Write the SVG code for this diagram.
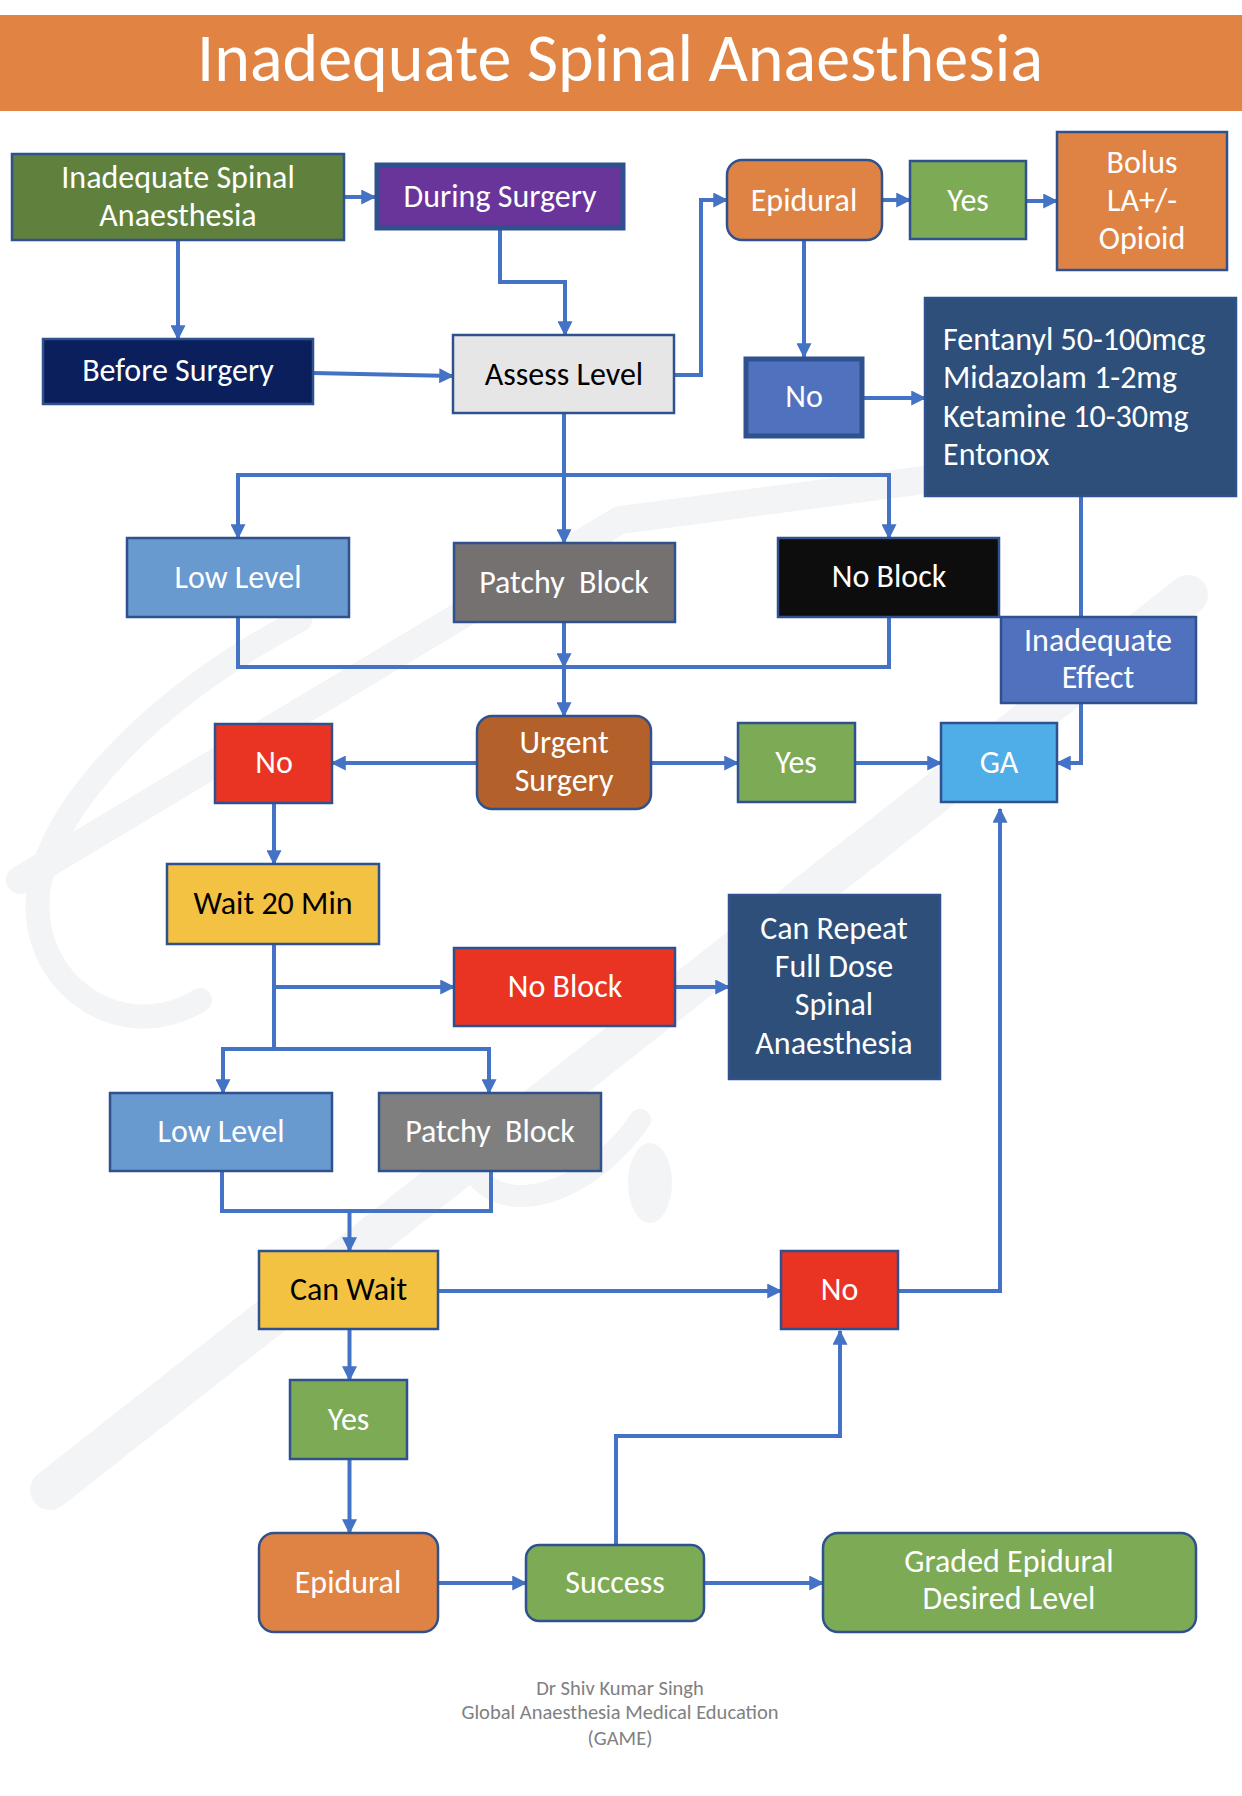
<svg xmlns="http://www.w3.org/2000/svg" width="1242" height="1796" viewBox="0 0 1242 1796">
<defs>
<marker id="ah" viewBox="0 0 12 12" refX="11" refY="6" markerWidth="16" markerHeight="15" markerUnits="userSpaceOnUse" orient="auto">
<path d="M0,0 L12,6 L0,12 z" fill="#4472C4"/>
</marker>
<style>
text{font-family:Carlito,Lato,"Open Sans",sans-serif;font-size:32px;text-anchor:middle;fill:#fff}
.dark{fill:#000}
.b{stroke:#2F528F;stroke-width:2.5}
.bt{stroke:#2F528F;stroke-width:5}
.c{fill:none;stroke:#4472C4;stroke-width:4}
.a{marker-end:url(#ah)}
.wm{fill:none;stroke:#f3f4f6;stroke-linecap:round}
.ft{font-size:20.5px;fill:#808080}
</style>
</defs>
<rect width="1242" height="1796" fill="#fff"/>
<g id="watermark">
<path class="wm" stroke-width="40" d="M50,1490 L1188,595"/>
<path class="wm" stroke-width="28" d="M20,880 L620,520 L1000,470"/>
<path class="wm" stroke-width="24" d="M300,620 C150,700 60,800 40,880 C20,980 120,1050 200,1000"/>
<path class="wm" stroke-width="22" d="M640,1120 C600,1180 520,1220 480,1180"/>
<ellipse cx="650" cy="1183" rx="22" ry="40" fill="#f3f4f6"/>
</g>
<g id="title">
<rect x="0" y="15" width="1242" height="96" fill="#E08343"/>
<text x="620" y="81" style="font-size:68px;font-weight:300">Inadequate Spinal Anaesthesia</text>
</g>
<g id="connectors">
<path class="c a" d="M344,197 H375"/>
<path class="c a" d="M178,240 V339"/>
<path class="c a" d="M500,230 V282 H565 V335"/>
<path class="c a" d="M313,373 L453,376"/>
<path class="c a" d="M674,375 H701 V200 H727"/>
<path class="c a" d="M882,200 H910"/>
<path class="c a" d="M1026,201 H1057"/>
<path class="c a" d="M804,240 V357"/>
<path class="c a" d="M864,398 H925"/>
<path class="c a" d="M564,413 V543"/>
<path class="c" d="M238,538 V475 H889 V538"/>
<path class="c a" d="M238,475 V538"/>
<path class="c a" d="M889,475 V538"/>
<path class="c" d="M238,617 V667 H889 V617"/>
<path class="c a" d="M564,622 V667"/>
<path class="c a" d="M564,667 V716"/>
<path class="c" d="M1081,496 V617"/>
<path class="c a" d="M1081,703 V763 H1057"/>
<path class="c a" d="M477,763 H332"/>
<path class="c a" d="M651,763 H738"/>
<path class="c a" d="M855,763 H941"/>
<path class="c a" d="M274,803 V864"/>
<path class="c" d="M274,944 V1049"/>
<path class="c a" d="M274,987 H454"/>
<path class="c" d="M223,1093 V1049 H489 V1093"/>
<path class="c a" d="M223,1049 V1093"/>
<path class="c a" d="M489,1049 V1093"/>
<path class="c a" d="M675,987 H729"/>
<path class="c" d="M222,1171 V1211 H491 V1171"/>
<path class="c a" d="M349.5,1211 V1251"/>
<path class="c a" d="M438,1291 H781"/>
<path class="c a" d="M898,1291 H1000 V809"/>
<path class="c a" d="M349.5,1329 V1380"/>
<path class="c a" d="M349.5,1459 V1533"/>
<path class="c a" d="M437,1583 H526"/>
<path class="c a" d="M704,1583 H823"/>
<path class="c a" d="M616,1545 V1436 H840 V1331"/>
</g>
<g id="n-inadequate"><rect class="b" x="12" y="154" width="332" height="86" fill="#5F813D"/><text x="178" y="188">Inadequate Spinal</text><text x="178" y="226">Anaesthesia</text></g>
<g id="n-during"><rect class="bt" x="377" y="165" width="246" height="63" fill="#6A359A"/><text x="500" y="207">During Surgery</text></g>
<g id="n-before"><rect class="b" x="43" y="339" width="270" height="65" fill="#0B1F5C"/><text x="178" y="381">Before Surgery</text></g>
<g id="n-assess"><rect class="b" x="453" y="335" width="221" height="78" fill="#E7E6E6"/><text class="dark" x="564" y="385">Assess Level</text></g>
<g id="n-epidural"><rect class="b" x="727" y="160" width="155" height="80" rx="15" fill="#DF8344"/><text x="804" y="211">Epidural</text></g>
<g id="n-yes1"><rect class="b" x="910" y="161" width="116" height="78" fill="#7DAA55"/><text x="968" y="211">Yes</text></g>
<g id="n-bolus"><rect class="b" x="1057" y="132" width="170" height="138" fill="#DF8344"/><text x="1142" y="173">Bolus</text><text x="1142" y="211">LA+/-</text><text x="1142" y="249">Opioid</text></g>
<g id="n-no1"><rect class="bt" x="746" y="359" width="116" height="77" fill="#4F71BE"/><text x="804" y="407">No</text></g>
<g id="n-drugs"><rect class="b" x="925" y="298" width="311" height="198" fill="#2D4F7A"/>
<text x="943" y="350" style="text-anchor:start">Fentanyl 50-100mcg</text>
<text x="943" y="388" style="text-anchor:start">Midazolam 1-2mg</text>
<text x="943" y="427" style="text-anchor:start">Ketamine 10-30mg</text>
<text x="943" y="465" style="text-anchor:start">Entonox</text></g>
<g id="n-low1"><rect class="b" x="127" y="538" width="222" height="79" fill="#6899CF"/><text x="238" y="588">Low Level</text></g>
<g id="n-patchy1"><rect class="b" x="454" y="543" width="221" height="79" fill="#767171"/><text x="564" y="593" xml:space="preserve">Patchy  Block</text></g>
<g id="n-noblock1"><rect class="b" x="778" y="538" width="221" height="79" fill="#0D0D0D"/><text x="889" y="587">No Block</text></g>
<g id="n-ineffect"><rect class="b" x="1001" y="617" width="195" height="86" fill="#4F71BE"/><text x="1098" y="651">Inadequate</text><text x="1098" y="688">Effect</text></g>
<g id="n-urgent"><rect class="b" x="477" y="716" width="174" height="93" rx="15" fill="#B4602A"/><text x="564" y="753">Urgent</text><text x="564" y="791">Surgery</text></g>
<g id="n-no2"><rect class="b" x="215" y="724" width="117" height="79" fill="#E93424"/><text x="274" y="773">No</text></g>
<g id="n-yes2"><rect class="b" x="738" y="723" width="117" height="79" fill="#7DAA55"/><text x="796" y="773">Yes</text></g>
<g id="n-ga"><rect class="b" x="941" y="723" width="116" height="79" fill="#4FADE8"/><text x="999" y="773">GA</text></g>
<g id="n-wait"><rect class="b" x="167" y="864" width="212" height="80" fill="#F4C242"/><text class="dark" x="273" y="914">Wait 20 Min</text></g>
<g id="n-noblock2"><rect class="b" x="454" y="948" width="221" height="78" fill="#E93424"/><text x="565" y="997">No Block</text></g>
<g id="n-repeat"><rect class="b" x="729" y="895" width="211" height="184" fill="#2D4F7A"/><text x="834" y="939">Can Repeat</text><text x="834" y="977">Full Dose</text><text x="834" y="1015">Spinal</text><text x="834" y="1054">Anaesthesia</text></g>
<g id="n-low2"><rect class="b" x="110" y="1093" width="222" height="78" fill="#6899CF"/><text x="221" y="1142">Low Level</text></g>
<g id="n-patchy2"><rect class="b" x="379" y="1093" width="222" height="78" fill="#7F7F7F"/><text x="490" y="1142" xml:space="preserve">Patchy  Block</text></g>
<g id="n-canwait"><rect class="b" x="259" y="1251" width="179" height="78" fill="#F4C242"/><text class="dark" x="348.5" y="1300">Can Wait</text></g>
<g id="n-no3"><rect class="b" x="781" y="1251" width="117" height="78" fill="#E93424"/><text x="839.5" y="1300">No</text></g>
<g id="n-yes3"><rect class="b" x="290" y="1380" width="117" height="79" fill="#7DAA55"/><text x="348.5" y="1430">Yes</text></g>
<g id="n-epidural2"><rect class="b" x="259" y="1533" width="179" height="99" rx="15" fill="#DF8344"/><text x="348" y="1593">Epidural</text></g>
<g id="n-success"><rect class="b" x="526" y="1545" width="178" height="76" rx="13" fill="#7DAA55"/><text x="615" y="1593">Success</text></g>
<g id="n-graded"><rect class="b" x="823" y="1533" width="373" height="99" rx="15" fill="#7DAA55"/><text x="1009" y="1572">Graded Epidural</text><text x="1009" y="1609">Desired Level</text></g>
<g id="footer">
<text class="ft" x="620" y="1695">Dr Shiv Kumar Singh</text>
<text class="ft" x="620" y="1719">Global Anaesthesia Medical Education</text>
<text class="ft" x="620" y="1745">(GAME)</text>
</g>
</svg>
